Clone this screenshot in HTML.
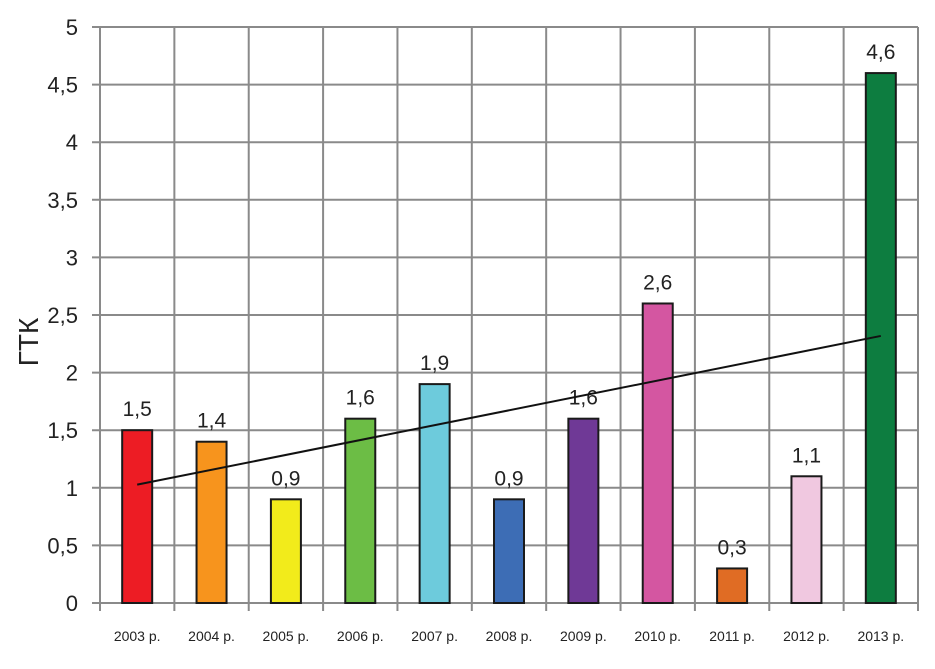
<!DOCTYPE html>
<html><head><meta charset="utf-8"><style>
body{margin:0;background:#fff}
svg text{font-family:"Liberation Sans","DejaVu Sans",sans-serif;fill:#222}
</style></head><body>
<svg id="c" width="935" height="664"></svg>
<script>
const categories=["2003 р.","2004 р.","2005 р.","2006 р.","2007 р.","2008 р.","2009 р.","2010 р.","2011 р.","2012 р.","2013 р."];
const values=[1.5,1.4,0.9,1.6,1.9,0.9,1.6,2.6,0.3,1.1,4.6];
const labels=["1,5","1,4","0,9","1,6","1,9","0,9","1,6","2,6","0,3","1,1","4,6"];
const colors=["#ed1c24","#f7941d","#f2eb1b","#6cbd45","#6dcbdc","#3d6db5","#6f3996","#d456a1","#e06c24","#f0c8e0","#0d7d40"];
const yTicks=[0,0.5,1,1.5,2,2.5,3,3.5,4,4.5,5];
const yTickLabels=["0","0,5","1","1,5","2","2,5","3","3,5","4","4,5","5"];
const NS="http://www.w3.org/2000/svg";
const svg=document.getElementById('c');
const L=100,R=918,T=27,B=603,yMax=5;
const bw=(R-L)/categories.length;
const y=v=>B-(v/yMax)*(B-T);
const xc=i=>L+bw*(i+0.5);
function mk(tag,attrs,parent){const e=document.createElementNS(NS,tag);for(const k in attrs)e.setAttribute(k,attrs[k]);(parent||svg).appendChild(e);return e;}
// horizontal grid
yTicks.forEach((t,i)=>{
  const g=mk('line',{x1:L-8,x2:R,y1:y(t),y2:y(t),stroke:'#8a8a8a','stroke-width':2});
  
  
  const tx=mk('text',{x:L-22,y:y(t)+8,'text-anchor':'end','font-size':22});
  tx.textContent=yTickLabels[i];
  
  
});
// vertical grid
for(let i=0;i<=categories.length;i++){
  const x=L+bw*i;
  const g=mk('line',{x1:x,x2:x,y1:T,y2:B+8,stroke:'#8a8a8a','stroke-width':2});
  
  
}
// bars
values.forEach((v,i)=>{
  const w=30;
  const r=mk('rect',{x:xc(i)-w/2,y:y(v),width:w,height:B-y(v),fill:colors[i],stroke:'#1a1a1a','stroke-width':2});
  
  
  const t=mk('text',{x:xc(i),y:y(v)-14,'text-anchor':'middle','font-size':21});
  t.textContent=labels[i];
  
  
  const c=mk('text',{x:xc(i),y:641,'text-anchor':'middle','font-size':14});
  c.textContent=categories[i];
  
  
});
// trendline (linear regression)
const n=values.length;let mx=(n-1)/2,my=values.reduce((a,b)=>a+b,0)/n,sxy=0,sxx=0;
values.forEach((v,i)=>{sxy+=(i-mx)*(v-my);sxx+=(i-mx)*(i-mx);});
const slope=sxy/sxx,ic=my-slope*mx;
const tl=mk('line',{x1:xc(0),y1:y(ic),x2:xc(n-1),y2:y(ic+slope*(n-1)),stroke:'#111','stroke-width':2});


const yt=mk('text',{x:0,y:0,'font-size':28,'text-anchor':'middle',transform:'translate(38,342) rotate(-90)'});
yt.textContent='ГТК';


</script>
</body></html>
